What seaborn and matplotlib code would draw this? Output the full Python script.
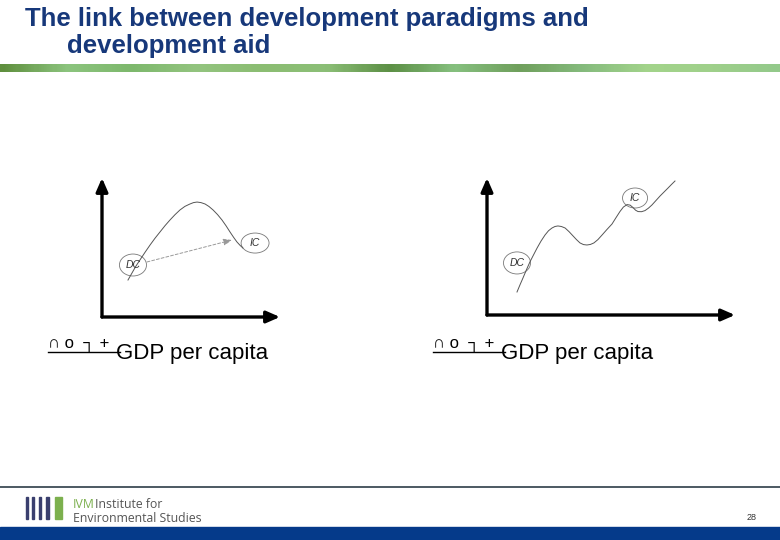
import numpy as np
import pandas as pd
import seaborn as sns
import matplotlib.pyplot as plt
from matplotlib.patches import Ellipse, Rectangle
from matplotlib.colors import LinearSegmentedColormap

# left diagram: paradigm curve (GDP per capita vs. indicator), units 0..10
left_x = [1.46, 1.70, 1.90, 2.13, 2.42, 2.70, 2.98, 3.26, 3.54, 3.82, 4.10, 4.38, 4.66,
          4.94, 5.14, 5.34, 5.56, 5.79, 6.01, 6.24, 6.49, 6.74, 6.97, 7.19, 7.40,
          7.58, 7.76, 7.92]
left_y = [2.66, 3.20, 3.65, 4.10, 4.66, 5.18, 5.67, 6.12, 6.57, 6.98, 7.36, 7.70, 7.96,
          8.13, 8.23, 8.27, 8.23, 8.13, 7.95, 7.70, 7.37, 6.98, 6.56, 6.12, 5.72,
          5.40, 5.15, 4.96]
left_dc = (1.74, 3.74)
left_ic = (8.60, 5.32)
left_arrow = [(2.53, 3.96), (7.30, 5.54)]

# right diagram
right_x = [1.21, 1.33, 1.45, 1.59, 1.73, 1.88, 2.02, 2.18, 2.34, 2.48, 2.62, 2.74, 2.86,
           3.00, 3.15, 3.31, 3.47, 3.61, 3.75, 3.89, 4.03, 4.17, 4.31, 4.47, 4.64,
           4.84, 5.04, 5.20, 5.36, 5.50, 5.65, 5.77, 5.89, 5.99, 6.09, 6.23, 6.37,
           6.51, 6.65, 6.82, 6.98, 7.14, 7.30, 7.44, 7.58]
right_y = [1.68, 2.20, 2.70, 3.30, 3.87, 4.40, 4.89, 5.40, 5.84, 6.15, 6.35, 6.46, 6.50,
           6.46, 6.35, 6.08, 5.77, 5.50, 5.26, 5.14, 5.11, 5.15, 5.26, 5.50, 5.84,
           6.25, 6.64, 7.10, 7.55, 7.88, 8.06, 8.02, 7.84, 7.65, 7.55, 7.54, 7.62,
           7.80, 8.03, 8.37, 8.69, 8.98, 9.27, 9.53, 9.78]
right_dc = (1.21, 3.80)
right_ic = (5.97, 8.54)

title_lines = ['The link between development paradigms and', 'development aid']
x_label = 'GDP per capita'

plt.rcParams['font.family'] = ['Liberation Sans', 'DejaVu Sans']
fig = plt.figure(figsize=(7.8, 5.4), dpi=100)

# background / slide decoration in pixel coordinates
bg = fig.add_axes([0, 0, 1, 1])
bg.set_xlim(0, 780)
bg.set_ylim(540, 0)
bg.axis('off')

for (tx, ty), line in zip([(25, 26), (67, 53)], title_lines):
    bg.text(tx, ty, line, fontsize=18.5, fontweight='bold', color='#17387a',
            va='baseline', ha='left')

greens = LinearSegmentedColormap.from_list(
    'band', ['#5f8f3e', '#8cc47e', '#7db86c', '#93c47f', '#8bbd72', '#8cbf77',
             '#5c8f45', '#86c07f', '#6f9f5c', '#85bb7d', '#a3d48b', '#9fd08a', '#93c98a'])
bg.imshow(np.linspace(0, 1, 300).reshape(1, -1), cmap=greens, aspect='auto',
          extent=[0, 780, 72, 64], zorder=1)

# footer
bg.plot([0, 780], [487, 487], color='#2e3d48', lw=1.2)
bg.add_patch(Rectangle((0, 527), 780, 13, color='#053a8a'))
for bx, bw in [(26, 1.5), (32, 1.8), (39, 2.2), (46, 2.8)]:
    bg.add_patch(Rectangle((bx, 497), bw, 22, color='#3a3f6e'))
bg.add_patch(Rectangle((55, 497), 7, 22, color='#7cb04e'))
bg.text(73, 505, 'IVM', fontsize=8.8, color='#7cb04e', va='center', family='Open Sans')
bg.text(95, 505, 'Institute for', fontsize=8.8, color='#555555', va='center', family='Open Sans')
bg.text(73, 518, 'Environmental Studies', fontsize=8.8, color='#555555', va='center',
        family='Open Sans')
bg.text(752, 518, '28', fontsize=6.5, color='#333333', va='center', ha='center')


def diagram(rect, xs, ys, dc, ic, dc_size, ic_size, arrow=None):
    ax = fig.add_axes(rect)
    ax.set_xlim(0, 10)
    ax.set_ylim(0, 10)
    ax.axis('off')
    df = pd.DataFrame({'x': xs, 'y': ys})
    sns.lineplot(data=df, x='x', y='y', ax=ax, color='#555555', lw=0.7,
                 estimator=None, sort=False, clip_on=False)
    for pos in [(0, 10), (10, 0)]:
        ax.annotate('', xy=pos, xytext=(0, 0), annotation_clip=False,
                    arrowprops=dict(arrowstyle='-|>,head_length=0.8,head_width=0.35',
                                    color='black', lw=2.4, shrinkA=0, shrinkB=0))
    for (cx, cy), (w, h), lab in [(dc, dc_size, 'DC'), (ic, ic_size, 'IC')]:
        ax.add_patch(Ellipse((cx, cy), w, h, fill=False, ec='#777777', lw=0.6,
                             clip_on=False))
        ax.text(cx, cy, lab, fontsize=7.5, style='italic', color='#333333',
                ha='center', va='center')
    if arrow:
        ax.annotate('', xy=arrow[1], xytext=arrow[0],
                    arrowprops=dict(arrowstyle='-|>,head_length=0.5,head_width=0.2',
                                    color='#999999', lw=0.7, ls=(0, (3, 2)),
                                    shrinkA=0, shrinkB=0))
    return ax


diagram([102 / 780, 223 / 540, 178 / 780, 139 / 540], left_x, left_y,
        left_dc, left_ic, (1.52, 1.58), (1.57, 1.44), left_arrow)
diagram([487 / 780, 225 / 540, 248 / 780, 137 / 540], right_x, right_y,
        right_dc, right_ic, (1.09, 1.61), (1.01, 1.46))

# axis captions (with the garbled glyph run seen on the slide)
for x0, cx in [(48, 192), (433, 577)]:
    bg.plot([x0, x0 + 72], [352, 352], color='black', lw=1.0)
    bg.text(x0, 352, '∩ o  ┐ +', fontsize=12, color='black', va='bottom', ha='left')
    bg.text(cx, 353, x_label, fontsize=16, color='black', va='center', ha='center')

fig.savefig('out.png', dpi=100)
